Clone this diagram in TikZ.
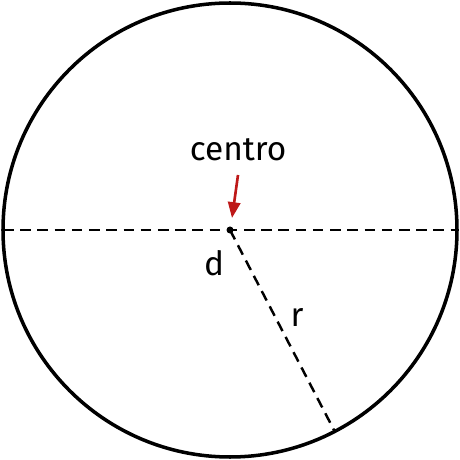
\documentclass[tikz,border=0pt]{standalone}
\usepackage{fontspec}
\setmainfont{Fira Sans}
\usetikzlibrary{arrows.meta}
\definecolor{arrowred}{RGB}{190,25,25}
\tikzset{
  dashline/.style={line width=1.4pt,dash pattern=on 6pt off 3.8pt},
  lbl/.style={font=\fontsize{19}{22}\selectfont,inner sep=0pt}
}
\begin{document}
\begin{tikzpicture}[x=0.02cm,y=0.02cm]
\useasboundingbox (0,0) rectangle (460,460);
\coordinate (O) at (230,230);
\coordinate (L) at (3,230);
\coordinate (R) at (457,230);
\coordinate (P) at (335,28);
\draw[line width=2pt] (O) circle (227);
\draw[dashline] (L) -- (R);
\draw[dashline] (O) -- (P);
\fill (O) circle (3.5);
\node[lbl] (centro) at (238,310) {centro};
\coordinate (tip) at (232,242);
\draw[arrowred,line width=1.5pt,-{Triangle[length=9pt,width=7pt]}] (238,285) -- (tip);
\node[lbl] (d) at (214,197) {d};
\node[lbl] (r) at (297,142) {r};
\end{tikzpicture}
\end{document}
